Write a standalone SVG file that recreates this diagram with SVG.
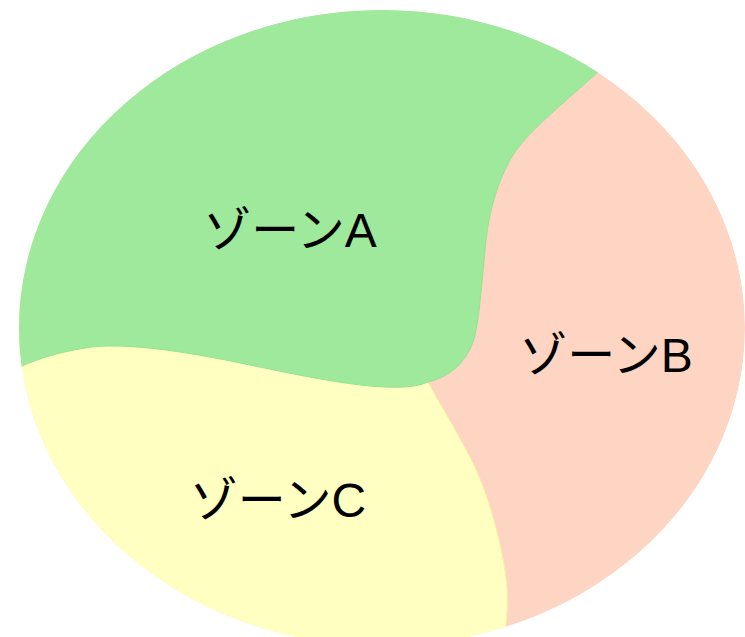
<svg xmlns="http://www.w3.org/2000/svg" width="745" height="637" viewBox="0 0 745 637">
  <style>
    .label { font-family: "Liberation Sans", "Noto Sans CJK JP", sans-serif; font-size: 48px; fill: #000; text-anchor: middle; }
    .zone-a { fill: #9ee99b; stroke: #94e48f; stroke-width: 1; }
    .zone-b { fill: #fed5c2; }
    .zone-c { fill: #ffffc2; stroke: #f4f0a0; stroke-width: 1; }
  </style>
  <defs>
    <clipPath id="outline">
      <ellipse cx="382" cy="328" rx="363" ry="318"/>
    </clipPath>
  </defs>
  <rect width="745" height="637" fill="#ffffff"/>
  <g clip-path="url(#outline)">
    <g id="zoneB">
      <ellipse class="zone-b" cx="382" cy="328" rx="363" ry="318"/>
    </g>
    <g id="zoneC">
      <path class="zone-c" d="M -10,300 L 440,300 L 428,382 C 440,404 462,440 475,467 C 490,500 500,540 505,570 C 509,595 507,615 506,625 L 504,660 L -10,660 Z"/>
    </g>
    <g id="zoneA">
      <path class="zone-a" d="M -10,-10 L 640,-10 L 610,60 L 598,72 C 565,102 532,128 515,152 C 500,175 490,205 486,240 C 482,280 480,310 476,330 C 472,355 455,376 428,382 C 400,395 330,382 250,365 C 180,350 120,342 85,348 C 60,352 40,358 22,366 L -10,380 Z"/>
    </g>
  </g>
  <text class="label" x="290" y="247">ゾーンA</text>
  <text class="label" x="606" y="372">ゾーンB</text>
  <text class="label" x="278" y="517">ゾーンC</text>
</svg>
